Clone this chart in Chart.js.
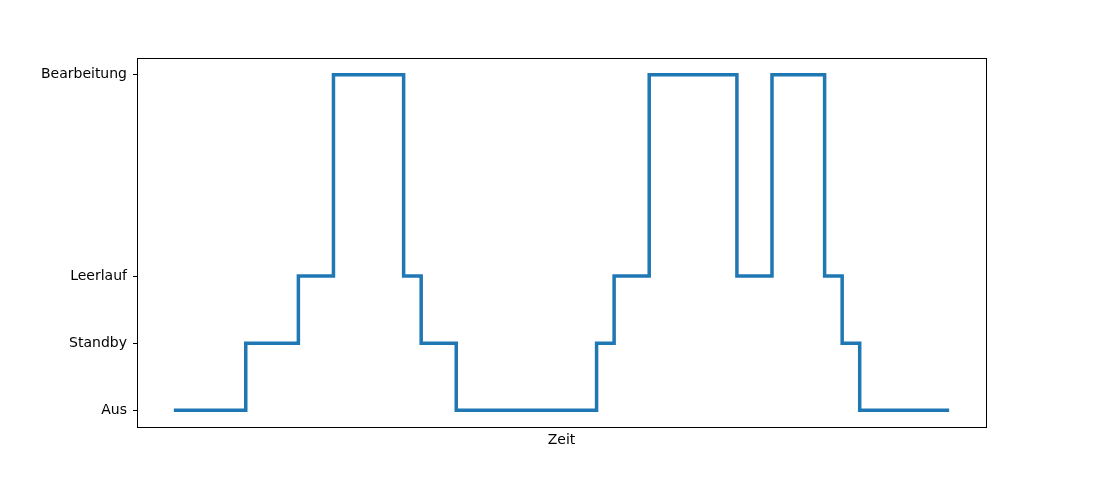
<!DOCTYPE html>
<html>
<head>
<meta charset="utf-8">
<script src="https://cdn.jsdelivr.net/npm/chart.js@4/dist/chart.umd.min.js"></script>
<style>
  html, body { margin: 0; padding: 0; background: #ffffff; }
  #wrap { width: 1096px; height: 480px; position: relative; }
</style>
</head>
<body>
<div id="wrap"><canvas id="c" width="1096" height="480"></canvas></div>
<script>
// Step times (x) and machine state (y) at each change
const times  = [0, 4, 7, 9, 13, 14, 16, 24, 25, 27, 32, 34, 37, 38, 39, 44];
const states = [0, 1, 2, 5, 2, 1, 0, 1, 2, 5, 2, 5, 2, 1, 0, 0];
// Y tick positions and labels
const stateTicks  = [0, 1, 2, 5];
const stateLabels = ['Aus', 'Standby', 'Leerlauf', 'Bearbeitung'];
const xLabel = 'Zeit';

const points = times.map((t, i) => ({ x: t, y: states[i] }));

const frame = {
  id: 'frame',
  afterDraw(chart) {
    const a = chart.chartArea, ctx = chart.ctx;
    ctx.save();
    ctx.strokeStyle = '#000';
    ctx.lineWidth = 1;
    ctx.strokeRect(Math.round(a.left) + 0.5, Math.round(a.top) + 0.5,
                   Math.round(a.right - a.left), Math.round(a.bottom - a.top));
    ctx.restore();
  }
};

new Chart(document.getElementById('c'), {
  type: 'line',
  data: {
    datasets: [{
      data: points,
      borderColor: '#1f77b4',
      borderWidth: 3.5,
      stepped: 'before',
      pointRadius: 0,
      fill: false,
      borderJoinStyle: 'miter',
      borderCapStyle: 'square'
    }]
  },
  options: {
    responsive: false,
    animation: false,
    layout: { padding: { left: 0, right: 110, top: 58, bottom: 31 } },
    plugins: { legend: { display: false }, tooltip: { enabled: false } },
    scales: {
      x: {
        type: 'linear',
        min: -2.2, max: 46.2,
        grid: { display: false },
        border: { display: false },
        ticks: { display: false },
        title: {
          display: true, text: xLabel, color: '#000',
          font: { family: 'DejaVu Sans', size: 14 },
          padding: { top: 0, bottom: 0 }
        },
        afterFit(s) { s.height = 22; }
      },
      y: {
        type: 'linear',
        min: -0.25, max: 5.25,
        afterBuildTicks(s) { s.ticks = stateTicks.map(v => ({ value: v })); },
        ticks: {
          color: '#000',
          font: { family: 'DejaVu Sans', size: 14 },
          padding: 6,
          autoSkip: false,
          callback(v) { const i = stateTicks.indexOf(v); return i >= 0 ? stateLabels[i] : ''; }
        },
        grid: { drawOnChartArea: false, drawTicks: true, tickLength: 4, color: '#000' },
        border: { display: false },
        afterFit(s) { s.width = 137; }
      }
    }
  },
  plugins: [frame]
});
</script>
</body>
</html>
